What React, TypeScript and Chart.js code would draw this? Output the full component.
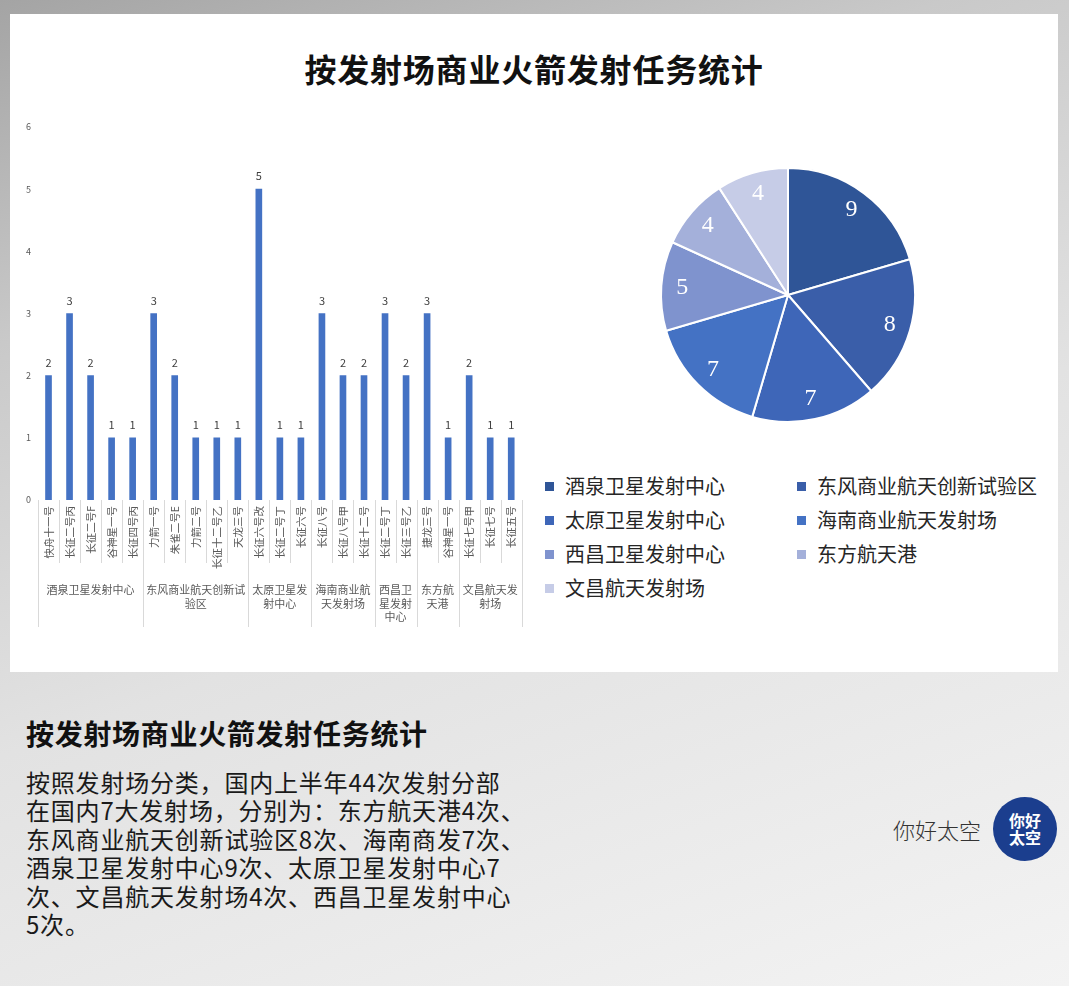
import React, { useEffect, useRef } from "react";
import { Chart, registerables } from "chart.js";

Chart.register(...registerables);

const FONT = '"Noto Sans CJK SC", "Noto Sans", sans-serif';

// Bar chart: rockets per launch site
const rocketLabels = [
  "快舟十一号", "长征二号丙", "长征二号F", "谷神星一号", "长征四号丙",
  "力箭一号", "朱雀二号E", "力箭二号", "长征十二号乙", "天龙三号",
  "长征六号改", "长征二号丁", "长征六号",
  "长征八号", "长征八号甲", "长征十二号",
  "长征二号丁", "长征三号乙",
  "捷龙三号", "谷神星一号",
  "长征七号甲", "长征七号", "长征五号",
];
const rocketLaunches = [2, 3, 2, 1, 1, 3, 2, 1, 1, 1, 5, 1, 1, 3, 2, 2, 3, 2, 3, 1, 2, 1, 1];
const yTicks = [0, 1, 2, 3, 4, 5, 6];

// Launch site groups
const siteNames = [
  "酒泉卫星发射中心", "东风商业航天创新试验区", "太原卫星发射中心",
  "海南商业航天发射场", "西昌卫星发射中心", "东方航天港", "文昌航天发射场",
];
const siteRocketCounts = [5, 5, 3, 3, 2, 2, 3];
const siteTotals = [9, 8, 7, 7, 5, 4, 4];
const siteColors = ["#2F5597", "#3A5EA9", "#3E66B8", "#4472C4", "#7F93CE", "#A4B0DA", "#C6CCE7"];

const bodyLines = [
  "按照发射场分类，国内上半年44次发射分部",
  "在国内7大发射场，分别为：东方航天港4次、",
  "东风商业航天创新试验区8次、海南商发7次、",
  "酒泉卫星发射中心9次、太原卫星发射中心7",
  "次、文昌航天发射场4次、西昌卫星发射中心",
  "5次。",
];

const groupPlugin = {
  id: "groupAxis",
  afterDraw(chart: any) {
    const ctx = chart.ctx;
    const xs = chart.scales.x;
    const bottom = chart.chartArea.bottom;
    const n = rocketLabels.length;
    const half = (xs.getPixelForValue(1) - xs.getPixelForValue(0)) / 2;
    const edge = (i: number) => xs.getPixelForValue(i) - half;
    const groupStarts: number[] = [];
    let acc = 0;
    siteRocketCounts.forEach((c) => {
      groupStarts.push(acc);
      acc += c;
    });
    ctx.save();
    ctx.strokeStyle = "#d9d9d9";
    ctx.lineWidth = 1;
    for (let i = 0; i <= n; i++) {
      const isGroup = i === n || groupStarts.includes(i);
      const x = Math.round(edge(i)) + 0.5;
      ctx.beginPath();
      ctx.moveTo(x, bottom);
      ctx.lineTo(x, bottom + (isGroup ? 127 : 63));
      ctx.stroke();
    }
    ctx.fillStyle = "#595959";
    ctx.font = `11px ${FONT}`;
    ctx.textAlign = "center";
    ctx.textBaseline = "middle";
    siteNames.forEach((name, g) => {
      const s = groupStarts[g];
      const left = edge(s);
      const right = edge(s + siteRocketCounts[g]);
      const maxW = right - left - 4;
      const lines: string[] = [];
      let cur = "";
      for (const ch of name) {
        if (ctx.measureText(cur + ch).width > maxW && cur) {
          lines.push(cur);
          cur = ch;
        } else cur += ch;
      }
      if (cur) lines.push(cur);
      lines.forEach((ln, k) => {
        ctx.fillText(ln, (left + right) / 2, bottom + 90 + k * 13.5);
      });
    });
    ctx.restore();
  },
};

const valuePlugin = {
  id: "barValues",
  afterDatasetsDraw(chart: any) {
    const ctx = chart.ctx;
    const meta = chart.getDatasetMeta(0);
    ctx.save();
    ctx.fillStyle = "#404040";
    ctx.font = `11px ${FONT}`;
    ctx.textAlign = "center";
    ctx.textBaseline = "middle";
    meta.data.forEach((el: any, i: number) => {
      ctx.fillText(String(rocketLaunches[i]), el.x, el.y - 13);
    });
    ctx.restore();
  },
};

const pieLabelPlugin = {
  id: "pieValues",
  afterDatasetsDraw(chart: any) {
    const ctx = chart.ctx;
    const meta = chart.getDatasetMeta(0);
    ctx.save();
    ctx.fillStyle = "#ffffff";
    ctx.font = `24px "Liberation Serif", "DejaVu Serif", serif`;
    ctx.textAlign = "center";
    ctx.textBaseline = "middle";
    meta.data.forEach((el: any, i: number) => {
      const a = (el.startAngle + el.endAngle) / 2;
      const r = el.outerRadius * 0.835;
      ctx.fillText(String(siteTotals[i]), el.x + Math.cos(a) * r, el.y + Math.sin(a) * r);
    });
    ctx.restore();
  },
};

function BarChart() {
  const ref = useRef<HTMLCanvasElement>(null);
  useEffect(() => {
    const chart = new Chart(ref.current as HTMLCanvasElement, {
      type: "bar",
      data: {
        labels: rocketLabels,
        datasets: [
          {
            data: rocketLaunches,
            backgroundColor: "#4472C4",
            barThickness: 6,
          },
        ],
      },
      options: {
        animation: false,
        responsive: false,
        maintainAspectRatio: false,
        layout: { padding: { top: 27, right: 8, left: 0, bottom: 0 } },
        plugins: { legend: { display: false }, tooltip: { enabled: false } },
        scales: {
          x: {
            grid: { display: false, drawTicks: false },
            border: { display: false },
            ticks: {
              autoSkip: false,
              minRotation: 90,
              maxRotation: 90,
              padding: 6,
              color: "#595959",
              font: { size: 10.5, family: FONT },
            },
            afterFit: (s: any) => {
              s.height = 140;
            },
          },
          y: {
            min: 0,
            max: 6,
            grid: { display: false, drawTicks: false },
            border: { display: false },
            ticks: { padding: 7, color: "#595959", font: { size: 9, family: FONT } },
            afterBuildTicks: (s: any) => {
              s.ticks = yTicks.map((v) => ({ value: v }));
            },
            afterFit: (s: any) => {
              s.width = 28;
            },
          },
        },
      } as any,
      plugins: [groupPlugin, valuePlugin],
    });
    return () => chart.destroy();
  }, []);
  return (
    <canvas
      ref={ref}
      width={520}
      height={540}
      style={{ position: "absolute", left: 10, top: 100, width: 520, height: 540 }}
    />
  );
}

function PieChart() {
  const ref = useRef<HTMLCanvasElement>(null);
  useEffect(() => {
    const chart = new Chart(ref.current as HTMLCanvasElement, {
      type: "pie",
      data: {
        labels: siteNames,
        datasets: [
          {
            data: siteTotals,
            backgroundColor: siteColors,
            borderColor: "#ffffff",
            borderWidth: 2,
          },
        ],
      },
      options: {
        animation: false,
        responsive: false,
        layout: { padding: 22 },
        plugins: { legend: { display: false }, tooltip: { enabled: false } },
      } as any,
      plugins: [pieLabelPlugin],
    });
    return () => chart.destroy();
  }, []);
  return (
    <canvas
      ref={ref}
      width={300}
      height={300}
      style={{ position: "absolute", left: 638, top: 145, width: 300, height: 300 }}
    />
  );
}

function Legend() {
  return (
    <>
      {siteNames.map((name, i) => {
        const col = i % 2;
        const row = Math.floor(i / 2);
        const left = col === 0 ? 545 : 797;
        const top = 486 + row * 34;
        return (
          <div
            key={name}
            style={{
              position: "absolute",
              left,
              top: top - 12,
              height: 24,
              display: "flex",
              alignItems: "center",
              whiteSpace: "nowrap",
            }}
          >
            <span
              style={{
                display: "inline-block",
                width: 9,
                height: 9,
                background: siteColors[i],
                marginRight: 11,
              }}
            />
            <span style={{ font: `20px ${FONT}`, color: "#262626", lineHeight: "24px" }}>{name}</span>
          </div>
        );
      })}
    </>
  );
}

export default function App() {
  useEffect(() => {
    document.body.style.margin = "0";
  }, []);
  return (
    <div
      style={{
        position: "absolute",
        left: 0,
        top: 0,
        width: 1069,
        height: 986,
        overflow: "hidden",
        background:
          "linear-gradient(160deg, #a4a4a4 0%, #c9c9c9 25%, #e2e2e2 55%, #f3f3f3 100%)",
        fontFamily: FONT,
      }}
    >
      <div
        style={{
          position: "absolute",
          left: 10,
          top: 14,
          width: 1048,
          height: 658,
          background: "#ffffff",
        }}
      />
      <div
        style={{
          position: "absolute",
          left: 10,
          top: 50,
          width: 1048,
          textAlign: "center",
          font: `bold 32px ${FONT}`,
          lineHeight: "36px",
          color: "#111",
          letterSpacing: 0.8,
        }}
      >
        按发射场商业火箭发射任务统计
      </div>
      <BarChart />
      <PieChart />
      <Legend />
      <div
        style={{
          position: "absolute",
          left: 26,
          top: 717,
          font: `bold 28px ${FONT}`,
          lineHeight: "32px",
          color: "#111",
          letterSpacing: 0.7,
          whiteSpace: "nowrap",
        }}
      >
        按发射场商业火箭发射任务统计
      </div>
      <div
        style={{
          position: "absolute",
          left: 26,
          top: 768,
          font: `24px ${FONT}`,
          lineHeight: "28.4px",
          color: "#1a1a1a",
          letterSpacing: 0.8,
          whiteSpace: "nowrap",
        }}
      >
        {bodyLines.map((l, i) => (
          <div key={i}>{l}</div>
        ))}
      </div>
      <div
        style={{
          position: "absolute",
          left: 893,
          top: 815,
          font: `300 22px ${FONT}`,
          lineHeight: "28px",
          color: "#333",
          whiteSpace: "nowrap",
        }}
      >
        你好太空
      </div>
      <div
        style={{
          position: "absolute",
          left: 993,
          top: 797,
          width: 64,
          height: 64,
          borderRadius: "50%",
          background: "#1B3E8E",
          color: "#fff",
          display: "flex",
          flexDirection: "column",
          alignItems: "center",
          justifyContent: "center",
          font: `bold 16px ${FONT}`,
          lineHeight: "17px",
        }}
      >
        <div>你好</div>
        <div>太空</div>
      </div>
    </div>
  );
}
